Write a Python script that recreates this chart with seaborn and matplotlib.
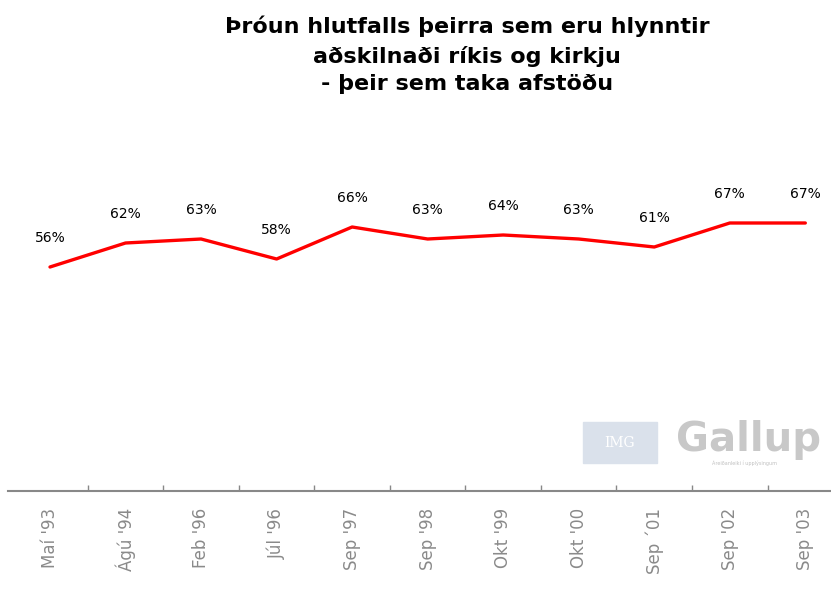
import matplotlib
matplotlib.use("Agg")
import matplotlib.pyplot as plt
from matplotlib.patches import Rectangle
import pandas as pd
import seaborn as sns

periods = ["Maí '93", "Ágú '94", "Feb '96", "Júl '96", "Sep '97", "Sep '98",
           "Okt '99", "Okt '00", "Sep ´01", "Sep '02", "Sep '03"]
support = [56, 62, 63, 58, 66, 63, 64, 63, 61, 67, 67]

title_lines = ["Þróun hlutfalls þeirra sem eru hlynntir",
               "aðskilnaði ríkis og kirkju",
               "- þeir sem taka afstöðu"]

sns.set_style("white")
plt.rcParams["font.family"] = ["DejaVu Sans"]

df = pd.DataFrame({"pos": range(len(periods)), "Hlutfall": support})

W, H = 831, 593
fig = plt.figure(figsize=(W / 100, H / 100), dpi=100)
ax = fig.add_axes([8 / W, (H - 491) / H, 823 / W, 400 / H])

sns.lineplot(data=df, x="pos", y="Hlutfall", color="red", linewidth=2.4,
             ax=ax, legend=False)

for x, v in zip(df["pos"], support):
    ax.annotate(f"{v}%", xy=(x, v), xytext=(0, 21), textcoords="offset points",
                ha="center", va="center", fontsize=10, color="black")

ax.set_xlim(-0.556, 10.34)
ax.set_ylim(0, 100)
ax.set_xlabel("")
ax.set_ylabel("")
ax.set_yticks([])

# labels at category centres, tick marks between categories
ax.set_xticks(range(len(periods)))
ax.set_xticklabels(periods, rotation=90, fontsize=12, color="#8a8a8a")
ax.tick_params(axis="x", which="major", bottom=True, length=0, pad=12)
ax.set_xticks([i + 0.5 for i in range(len(periods) - 1)], minor=True)
ax.tick_params(axis="x", which="minor", bottom=True, length=4, width=1,
               color="#888888", direction="in")

for side in ("top", "right", "left"):
    ax.spines[side].set_visible(False)
ax.spines["bottom"].set_color("#888888")
ax.spines["bottom"].set_linewidth(1.5)

# title, one text per line (baselines)
for line, base in zip(title_lines, [33, 63, 90]):
    fig.text(467 / W, 1 - base / H, line, ha="center", va="baseline",
             fontsize=16, fontweight="bold", color="black")

# Gallup watermark
fig.patches.append(Rectangle((583 / W, 1 - 463 / H), 74 / W, 41 / H,
                             transform=fig.transFigure, color="#dae1eb",
                             zorder=0))
fig.text(620 / W, 1 - 443 / H, "IMG", ha="center", va="center", fontsize=10,
         color="white", family="DejaVu Serif")
fig.text(749 / W, 1 - 440 / H, "Gallup", ha="center", va="center",
         fontsize=29, fontweight="bold", color="#c8c8c8")
fig.text(744 / W, 1 - 463 / H, "Áreiðanleiki í upplýsingum", ha="center",
         va="center", fontsize=3.5, color="#c0c0c0")

fig.savefig("out.png", dpi=100)
